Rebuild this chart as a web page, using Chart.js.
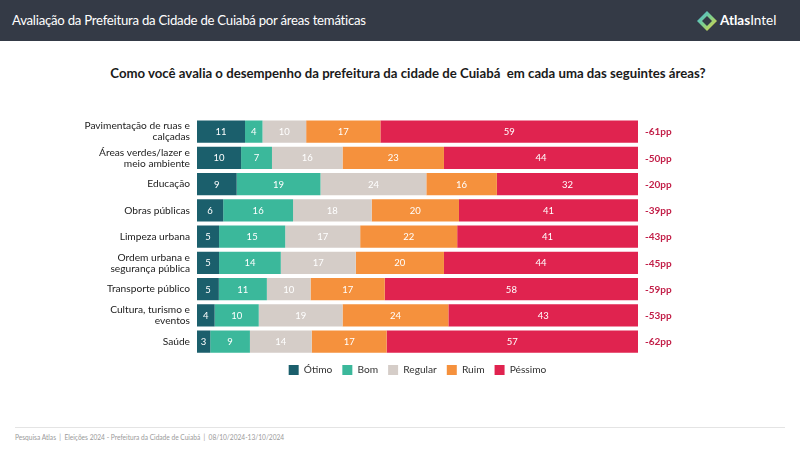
<!DOCTYPE html>
<html>
<head>
<meta charset="utf-8">
<script src="https://cdn.jsdelivr.net/npm/chart.js@4.4.1/dist/chart.umd.min.js"></script>
<style>
  html, body { margin: 0; padding: 0; width: 800px; height: 450px; background: #ffffff; overflow: hidden; font-family: Lato, "Open Sans", sans-serif; }
  #header { position: absolute; left: 0; top: 0; width: 800px; height: 41px; background: #343a46; }
  #htitle { position: absolute; left: 12px; top: 12px; color: #ffffff; font-size: 13.2px; letter-spacing: -0.25px; }
  #logo { position: absolute; left: 696px; top: 10px; height: 22px; }
  #logotext { position: absolute; left: 720px; top: 12px; color: #ffffff; font-size: 13.5px; }
  #title { position: absolute; left: 0; width: 816px; top: 65px; text-align: center; color: #1a1a1a; font-size: 13.2px; font-weight: bold; }
  #chartwrap { position: absolute; left: 0; top: 106px; width: 800px; height: 279px; }
  #footline { position: absolute; left: 15px; top: 427px; width: 770px; height: 1px; background: #e4e4e4; }
  #footer { position: absolute; left: 15px; top: 433px; color: #9a9a9a; font-size: 6.6px; }
</style>
</head>
<body>
<div id="header">
  <div id="htitle">Avaliação da Prefeitura da Cidade de Cuiabá por áreas temáticas</div>
  <svg id="logo" width="22" height="22" viewBox="0 0 22 22">
    <defs>
      <linearGradient id="lg" x1="0" y1="0" x2="1" y2="1">
        <stop offset="0" stop-color="#3fb6e8"/>
        <stop offset="0.5" stop-color="#7fd08a"/>
        <stop offset="1" stop-color="#f2d23a"/>
      </linearGradient>
    </defs>
    <path d="M11 1 L21 11 L11 21 L1 11 Z" fill="url(#lg)"/>
    <path d="M11 6 L16 11 L11 16 L6 11 Z" fill="#343a46"/>
  </svg>
  <div id="logotext"><b>Atlas</b>Intel</div>
</div>
<div id="title">Como você avalia o desempenho da prefeitura da cidade de Cuiabá&nbsp; em cada uma das seguintes áreas?</div>
<div id="chartwrap"><canvas id="c" width="800" height="279"></canvas></div>
<div id="footline"></div>
<div id="footer">Pesquisa Atlas&nbsp; |&nbsp; Eleições 2024 - Prefeitura da Cidade de Cuiabá&nbsp; |&nbsp; 08/10/2024-13/10/2024</div>

<script>
const categories = [
  ["Pavimentação de ruas e", "calçadas"],
  ["Áreas verdes/lazer e", "meio ambiente"],
  "Educação",
  "Obras públicas",
  "Limpeza urbana",
  ["Ordem urbana e", "segurança pública"],
  "Transporte público",
  ["Cultura, turismo e", "eventos"],
  "Saúde"
];
const otimo   = [11, 10, 9, 6, 5, 5, 5, 4, 3];
const bom     = [4, 7, 19, 16, 15, 14, 11, 10, 9];
const regular = [10, 16, 24, 18, 17, 17, 10, 19, 14];
const ruim    = [17, 23, 16, 20, 22, 20, 17, 24, 17];
const pessimo = [59, 44, 32, 41, 41, 44, 58, 43, 57];
const netLabels = ["-61pp", "-50pp", "-20pp", "-39pp", "-43pp", "-45pp", "-59pp", "-53pp", "-62pp"];
const seriesNames = ["Ótimo", "Bom", "Regular", "Ruim", "Péssimo"];
const seriesColors = ["#1b5f6c", "#3bb89b", "#d5cdc8", "#f5913d", "#e0234f"];

const raw = [otimo, bom, regular, ruim, pessimo];
const totals = categories.map((_, i) => raw.reduce((s, arr) => s + arr[i], 0));

const datasets = raw.map((arr, k) => ({
  label: seriesNames[k],
  data: arr.map((v, i) => v / totals[i] * 100),
  rawValues: arr,
  backgroundColor: seriesColors[k],
  borderWidth: 0,
  barPercentage: 0.85,
  categoryPercentage: 1.0
}));

const labelPlugin = {
  id: 'labels',
  afterDatasetsDraw(chart) {
    const ctx = chart.ctx;
    ctx.save();
    ctx.textAlign = 'center';
    ctx.textBaseline = 'middle';
    ctx.font = '9.5px Lato';
    ctx.fillStyle = '#ffffff';
    chart.data.datasets.forEach((ds, di) => {
      const meta = chart.getDatasetMeta(di);
      meta.data.forEach((bar, i) => {
        const x = (bar.x + bar.base) / 2;
        ctx.fillText(String(ds.rawValues[i]), x, bar.y + 0.5);
      });
    });
    const meta = chart.getDatasetMeta(0);
    ctx.textAlign = 'left';
    ctx.font = 'bold 10px Lato';
    ctx.fillStyle = '#c21f48';
    meta.data.forEach((bar, i) => {
      ctx.fillText(netLabels[i], chart.chartArea.right + 7, bar.y + 0.5);
    });
    ctx.restore();
  }
};

new Chart(document.getElementById('c'), {
  type: 'bar',
  data: { labels: categories, datasets: datasets },
  plugins: [labelPlugin],
  options: {
    indexAxis: 'y',
    responsive: false,
    animation: false,
    layout: { padding: { left: 0, right: 162, top: 0, bottom: 0 } },
    scales: {
      x: { stacked: true, min: 0, max: 100, display: false },
      y: {
        stacked: true,
        grid: { display: false, drawTicks: false },
        border: { display: false },
        ticks: { color: '#222222', font: { family: 'Lato', size: 10.2, lineHeight: 1.08 }, padding: 7 },
        afterFit(scale) { scale.width = 197; }
      }
    },
    plugins: {
      tooltip: { enabled: false },
      legend: {
        position: 'bottom',
        fullSize: false,
        labels: {
          boxWidth: 10, boxHeight: 10, padding: 10,
          color: '#333333',
          font: { family: 'Lato', size: 10.2 }
        }
      }
    }
  }
});
</script>
</body>
</html>
